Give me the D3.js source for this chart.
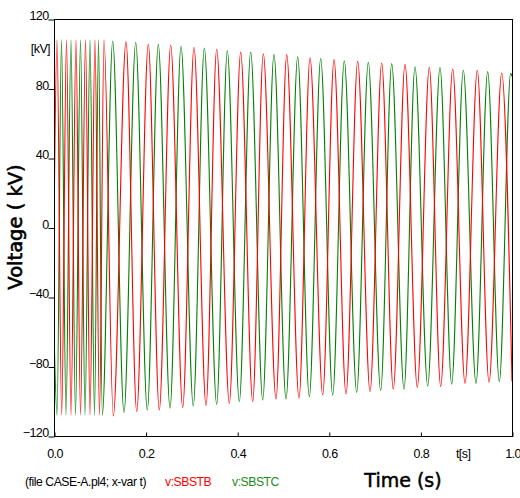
<!DOCTYPE html>
<html>
<head>
<meta charset="utf-8">
<script src="https://cdn.jsdelivr.net/npm/d3@7"></script>
<style>
  body { margin: 0; background: #fff; }
  svg { display: block; }
</style>
</head>
<body>
<div id="chart"></div>
<script>
// extrema of the two traces (time in s, voltage in kV)
const redT = [0, 0.0066, 0.0168, 0.0273, 0.0371, 0.0480, 0.0579, 0.0688, 0.0786, 0.0895, 0.0993, 0.1092,
  0.1295, 0.1572, 0.1806, 0.2059, 0.2299, 0.2548, 0.2810, 0.3057, 0.3319, 0.3552, 0.3828, 0.4076,
  0.4338, 0.4570, 0.4847, 0.5081, 0.5349, 0.5590, 0.5867, 0.6114, 0.6376, 0.6631, 0.6900, 0.7155,
  0.7408, 0.7664, 0.7932, 0.8194, 0.8443, 0.8705, 0.8974, 0.9242, 0.9498, 0.9775, 1.0];
const redV = [0, 108, -108, 108, -108, 108, -108, 108, -108, 108, -108, 108,
  -108.5, 107, -106, 105.6, -105, 105, -103.7, 103.7, -102.6, 102.6, -101.2, 101,
  -100.2, 100, -98.7, 99.5, -98.3, 97.7, -96.4, 96.6, -95.8, 95.7, -94.5, 94.7,
  -93, 93.9, -92, 92.2, -91.6, 91.2, -89.7, 90.5, -89.1, 88.9, -88.5];

const greenT = [0, 0.0066, 0.0164, 0.0262, 0.0371, 0.0469, 0.0579, 0.0677, 0.0786, 0.0884, 0.0972, 0.1055,
  0.1282, 0.1528, 0.1784, 0.2037, 0.2277, 0.2533, 0.2773, 0.3041, 0.3282, 0.3552, 0.3784, 0.4046,
  0.4295, 0.4557, 0.4803, 0.5066, 0.5321, 0.5574, 0.5823, 0.6085, 0.6338, 0.6609, 0.6862, 0.7133,
  0.7373, 0.7642, 0.7882, 0.8159, 0.8428, 0.8683, 0.8937, 0.9214, 0.9469, 0.9723, 0.9971, 1.0];
const greenV = [-60, -108, 108, -108, 108, -108, 108, -108, 108, -108, 108, -108,
  107.3, -106.6, 106.6, -105.2, 105.4, -104, 104.3, -102.7, 103.3, -101.8, 101.7, -100.2,
  101, -99.3, 99.5, -98.7, 98.3, -97.4, 97.3, -96.4, 96, -94.9, 95.1, -93.9,
  94.3, -93, 92.5, -91.2, 92, -90.2, 90.5, -89.7, 89.7, -88.7, 88.7, 87];

const yTicks = [-120, -80, -40, 0, 40, 80, 120];
const xTicks = [0, 0.2, 0.4, 0.6, 0.8, 1.0];

const width = 520, height = 498;
const margin = {top: 19, right: 8, bottom: 62, left: 54};

const svg = d3.select("#chart").append("svg")
  .attr("width", width)
  .attr("height", height);

const x = d3.scaleLinear().domain([0, 1]).range([margin.left, width - margin.right]);
const y = d3.scaleLinear().domain([-120, 120]).range([height - margin.bottom, margin.top]);

svg.append("clipPath").attr("id", "plotclip")
  .append("rect")
  .attr("x", x(0)).attr("y", y(120))
  .attr("width", x(1) - x(0)).attr("height", y(-120) - y(120));

const line = d3.line()
  .x(d => x(d[0]))
  .y(d => y(d[1]))
  .curve(d3.curveMonotoneX);

const series = [
  {t: greenT, v: greenV, color: "#008000"},
  {t: redT, v: redV, color: "#ff0000"}
];

svg.append("g").attr("clip-path", "url(#plotclip)")
  .selectAll("path")
  .data(series)
  .enter().append("path")
  .attr("fill", "none")
  .attr("stroke", d => d.color)
  .attr("stroke-width", 1.1)
  .attr("d", d => line(d.t.map((t, i) => [t, d.v[i]])));

// frame
svg.append("rect")
  .attr("x", x(0) + 0.5).attr("y", y(120) + 0.5)
  .attr("width", x(1) - x(0)).attr("height", y(-120) - y(120))
  .attr("fill", "none").attr("stroke", "#000").attr("stroke-width", 1);

const tickFont = "'Liberation Sans', Arial, sans-serif";

// y axis
const axisL = d3.axisLeft(y).tickValues(yTicks).tickSize(6).tickSizeOuter(0)
  .tickFormat(d3.format("d"));
const gy = svg.append("g")
  .attr("transform", "translate(" + (x(0) + 0.5) + ",0.5)")
  .call(axisL);
gy.select(".domain").remove();
gy.selectAll("text")
  .attr("x", -6).attr("dy", 0).attr("y", 0)
  .attr("font-family", tickFont).attr("font-size", 12.5)
  .attr("letter-spacing", -0.6).attr("fill", "#000");

svg.append("text")
  .attr("x", 50).attr("y", 53)
  .attr("text-anchor", "end")
  .attr("font-family", tickFont).attr("font-size", 12.5)
  .attr("letter-spacing", -0.6)
  .text("[kV]");

// x axis
const axisB = d3.axisBottom(x).tickValues(xTicks).tickSizeInner(-4).tickSizeOuter(0)
  .tickFormat(d3.format(".1f"));
const gx = svg.append("g")
  .attr("transform", "translate(0.5," + (y(-120) + 0.5) + ")")
  .call(axisB);
gx.select(".domain").remove();
gx.selectAll("text")
  .attr("y", 21).attr("dy", 0)
  .attr("font-family", tickFont).attr("font-size", 12.5)
  .attr("letter-spacing", -0.6).attr("fill", "#000");

svg.append("text")
  .attr("x", 456).attr("y", 458)
  .attr("font-family", tickFont).attr("font-size", 12.5)
  .attr("letter-spacing", -0.6)
  .text("t[s]");

// legend line
const legend = [
  {label: "(file CASE-A.pl4; x-var t)", x: 25, size: 12.2, color: "#000"},
  {label: "v:SBSTB", x: 165, size: 12.2, color: "#ff0000"},
  {label: "v:SBSTC", x: 232, size: 12.2, color: "#1a8c1a"}
];
svg.selectAll(".legend")
  .data(legend)
  .enter().append("text")
  .attr("class", "legend")
  .attr("x", d => d.x).attr("y", 486)
  .attr("font-family", tickFont).attr("font-size", d => d.size)
  .attr("letter-spacing", -0.45)
  .attr("fill", d => d.color)
  .text(d => d.label);

// axis titles
svg.append("text")
  .attr("x", 403).attr("y", 487)
  .attr("text-anchor", "middle")
  .attr("font-family", "'DejaVu Sans', sans-serif").attr("font-size", 19)
  .attr("stroke", "#000").attr("stroke-width", 0.5)
  .text("Time (s)");

svg.append("text")
  .attr("transform", "translate(22,227) rotate(-90)")
  .attr("text-anchor", "middle")
  .attr("font-family", "'DejaVu Sans', sans-serif").attr("font-size", 19.5)
  .attr("stroke", "#000").attr("stroke-width", 0.6)
  .text("Voltage ( kV)");
</script>
</body>
</html>
